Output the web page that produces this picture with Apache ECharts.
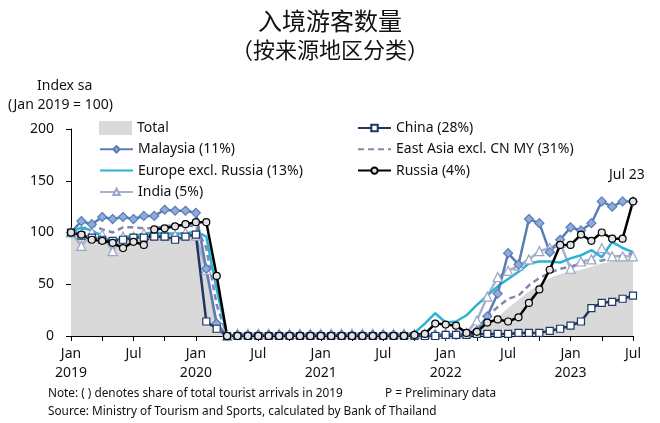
<!DOCTYPE html>
<html><head><meta charset="utf-8">
<script src="https://cdn.jsdelivr.net/npm/echarts@6/dist/echarts.min.js"></script>
<style>html,body{margin:0;padding:0;background:#fff}#c{width:660px;height:423px}</style>
</head><body><div id="c"></div>
<script>
// ---- data (monthly, Jan 2019 .. Jul 2023) ----
var monthNames = ['Jan','Feb','Mar','Apr','May','Jun','Jul','Aug','Sep','Oct','Nov','Dec'];
var years = [2019, 2020, 2021, 2022, 2023];
var categories = [];
years.forEach(function (y) { monthNames.forEach(function (m, i) { if (y < 2023 || i <= 6) categories.push(m + ' ' + y); }); });

var yTicks = [0, 50, 100, 150, 200];

var total = [100,96,95,95,94,94,95,96,96,96,96,97,97, 62,18,0, 0,0,0,0,0,0,0,0,0,0,0,0,0,0,0,1,1,1,2,3, 3,3,5,7,10,18,27,35,43,50,56,60, 62,64,67,70,72,74,76];
var china = [100,97,95,93,92,93,95,95,96,96,93,96,98, 14,7,0, 0,0,0,0,0,0,0,0,0,0,0,0,0,0,0,0,0,0,0,0, 1,1,1,2,2,2,2,3,3,3,5,7, 10,14,27,32,33,36,39];
var malaysia = [100,111,108,115,113,115,113,116,116,122,121,121,119, 65,12,0, 1,1,1,1,1,1,1,1,1,1,1,1,1,1,1,1,1,1,1,1, 1,1,2,5,19,41,80,69,113,109,81,93, 105,102,109,130,125,130,130];
var europe = [100,105,102,96,91,96,96,99,100,99,99,99,101, 96,45,0, 0,0,0,0,0,0,0,0,0,0,0,0,0,0,0,0,1,3,12,22, 13,14,20,30,39,48,55,62,70,72,72,71, 75,78,83,76,91,85,81];
var eastAsia = [100,103,107,103,100,105,105,104,104,106,107,107,106, 85,30,0, 0,0,0,0,0,0,0,0,0,0,0,0,0,0,0,0,0,0,0,0, 0,0,2,6,19,28,36,39,49,56,61,65, 67,70,72,73,75,78,80];
var russia = [100,98,93,92,90,85,91,88,103,104,106,108,110, 110,58,0, 0,0,0,0,0,0,0,0,0,0,0,0,0,0,0,0,0,1,2,12, 11,10,3,4,13,16,14,18,32,45,64,88, 88,98,92,100,94,94,130];
var india = [100,87,100,98,82,96,96,99,98,97,97,100,97, 64,8,0, 2,2,2,2,2,2,2,2,2,2,2,2,2,2,2,2,2,2,2,2, 2,2,3,15,38,57,63,68,74,82,85,90, 65,72,74,85,77,77,77];

var names = {
  total: 'Total', china: 'China (28%)', malaysia: 'Malaysia (11%)', eastAsia: 'East Asia excl. CN MY (31%)',
  europe: 'Europe excl. Russia (13%)', russia: 'Russia (4%)', india: 'India (5%)'
};

var FONT = '"Noto Sans", "DejaVu Sans", sans-serif';
var CJK = '"Noto Sans CJK SC", sans-serif';
var chart = echarts.init(document.getElementById('c'), null, {renderer: 'canvas'});

function lineSeries(name, data, color, width, symbol, size, fill, border, extra) {
  var s = {
    name: name, type: 'line', data: data, showSymbol: symbol !== 'none', showAllSymbol: true,
    symbol: symbol, symbolSize: size,
    lineStyle: {color: color, width: width},
    itemStyle: {color: fill, borderColor: border, borderWidth: 1.2},
    emphasis: {disabled: true}, z: 3
  };
  if (extra) Object.keys(extra).forEach(function (k) { s[k] = extra[k]; });
  return s;
}

var legendText = {fontFamily: FONT, fontSize: 14, color: '#111', lineHeight: 14};
var option = {
  animation: false,
  textStyle: {fontFamily: FONT},
  grid: {left: 71, right: 27, top: 129, bottom: 87, containLabel: false},
  title: [
    {text: '入境游客数量', left: 'center', top: 4, textStyle: {fontFamily: CJK, fontSize: 24, fontWeight: 'normal', color: '#111'}},
    {text: '（按来源地区分类）', left: 'center', top: 34, textStyle: {fontFamily: CJK, fontSize: 22, fontWeight: 'normal', color: '#111'}}
  ],
  legend: [
    {
      left: 94, top: 116, orient: 'vertical', itemWidth: 33, itemHeight: 14,
      selectedMode: false, textStyle: legendText,
      data: [{name: names.total, icon: 'rect', itemStyle: {color: '#d9d9d9'}}]
    },
    {
      left: 94, top: 137.3, orient: 'vertical', itemGap: 7.3, itemWidth: 33, itemHeight: 8,
      selectedMode: false, textStyle: legendText,
      data: [names.malaysia, {name: names.europe, itemStyle: {opacity: 0}}, names.india]
    },
    {
      left: 352, top: 116, orient: 'vertical', itemGap: 7.3, itemWidth: 33, itemHeight: 8,
      selectedMode: false, textStyle: legendText,
      data: [names.china, {name: names.eastAsia, itemStyle: {opacity: 0}}, names.russia]
    }
  ],
  xAxis: {
    type: 'category', data: categories, boundaryGap: false,
    axisLine: {lineStyle: {color: '#000', width: 1}},
    axisTick: {interval: 2, length: 5, lineStyle: {color: '#000'}},
    axisLabel: {
      interval: 5, margin: 9, color: '#111', fontSize: 14, lineHeight: 19, fontFamily: FONT,
      formatter: function (v) { var p = v.split(' '); return p[0] === 'Jan' ? 'Jan\n' + p[1] : p[0]; }
    },
    splitLine: {show: false}
  },
  yAxis: {
    type: 'value', min: yTicks[0], max: yTicks[yTicks.length - 1], interval: 50,
    axisLine: {show: true, lineStyle: {color: '#000', width: 1}},
    axisTick: {show: true, length: 5, lineStyle: {color: '#000'}},
    axisLabel: {color: '#111', fontSize: 14, margin: 17, fontFamily: FONT},
    splitLine: {show: false}
  },
  graphic: [
    {type: 'text', left: 37, top: 79, style: {text: 'Index sa', font: '14px ' + FONT, fill: '#111'}},
    {type: 'text', left: 8, top: 98, style: {text: '(Jan 2019 = 100)', font: '14px ' + FONT, fill: '#111'}},
    {type: 'text', left: 609, top: 168, style: {text: 'Jul 23', font: '14px ' + FONT, fill: '#111'}},
    {type: 'text', left: 48, top: 388, style: {text: 'Note: ( ) denotes share of total tourist arrivals in 2019', font: '11.8px ' + FONT, fill: '#111'}},
    {type: 'text', left: 385, top: 388, style: {text: 'P = Preliminary data', font: '11.8px ' + FONT, fill: '#111'}},
    {type: 'text', left: 48, top: 406, style: {text: 'Source: Ministry of Tourism and Sports, calculated by Bank of Thailand', font: '11.8px ' + FONT, fill: '#111'}}
  ],
  series: [
    {
      name: names.total, type: 'line', data: total, showSymbol: false, symbol: 'none',
      lineStyle: {width: 0, color: '#d9d9d9'}, itemStyle: {color: '#d9d9d9'},
      areaStyle: {color: '#d9d9d9', opacity: 1}, z: 1, emphasis: {disabled: true}
    },
    lineSeries(names.india, india, '#a7b1d0', 2.5, 'triangle', 9, '#ffffff', '#9aa5c6'),
    lineSeries(names.eastAsia, eastAsia, '#8a84ad', 2.5, 'none', 0, '#8a84ad', '#8a84ad', {lineStyle: {color: '#8a84ad', width: 2.5, type: [6, 4]}}),
    lineSeries(names.europe, europe, '#2bb3d6', 2.5, 'none', 0, '#2bb3d6', '#2bb3d6'),
    lineSeries(names.malaysia, malaysia, '#5a7db3', 2.5, 'diamond', 9, '#8faadc', '#5a7db3'),
    lineSeries(names.china, china, '#1f3763', 2.5, 'rect', 7, '#ffffff', '#1f3763'),
    lineSeries(names.russia, russia, '#000000', 2.5, 'circle', 7, '#e3e3e3', '#000000')
  ]
};
chart.setOption(option);
</script>
</body></html>
